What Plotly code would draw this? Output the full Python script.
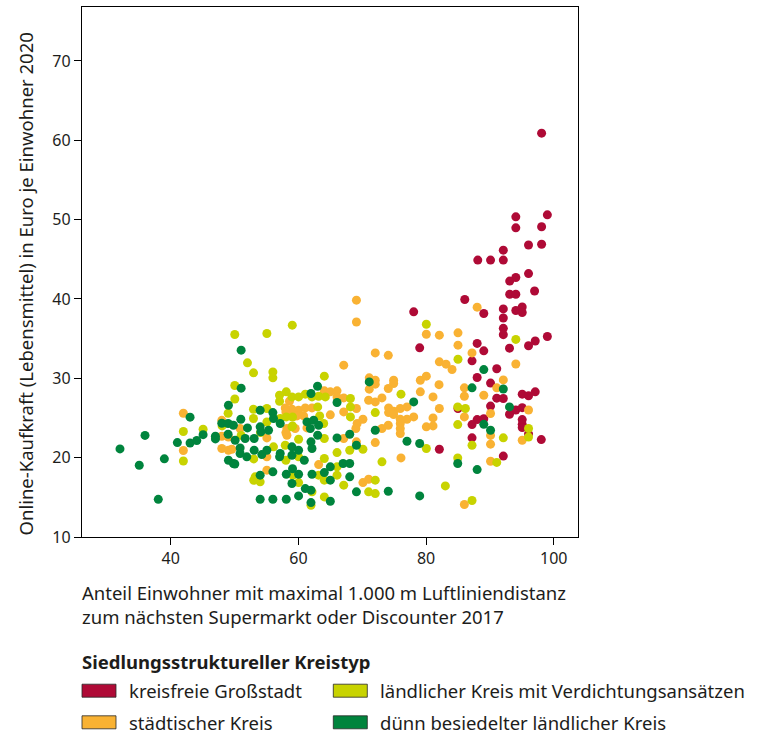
import plotly.graph_objects as go

# ---------------- data ----------------
categories = ["kreisfreie Großstadt", "städtischer Kreis",
              "ländlicher Kreis mit Verdichtungsansätzen",
              "dünn besiedelter ländlicher Kreis"]
colors = ["#AF0A36", "#F9B233", "#C8D300", "#00843D"]

grossstadt_x = [98.1, 99.0, 94.06, 94.06, 98.1, 96.05, 98.1, 92.1, 88.1, 90.1, 92.1, 96.05, 94.06, 93.1, 97.0, 93.1, 94.06,
                86.06, 78.06, 79.0, 82.08, 85.0,
                89.04, 92.1, 94.06, 95.06, 95.06, 92.1, 92.1, 92.1, 99.0, 97.1, 96.05, 93.07, 88.0, 89.04, 87.2, 91.07,
                88.0, 90.1, 91.07, 92.1, 95.06, 96.05, 97.1,
                90.1, 94.06, 95.06, 93.07, 88.0, 89.04, 87.2, 95.06, 95.06, 95.06, 96.05, 87.2, 98.05, 92.1]
grossstadt_y = [60.9, 50.6, 50.35, 48.97, 49.1, 46.8, 46.9, 46.15, 44.9, 44.9, 44.9, 43.2, 42.7, 42.25, 41.0, 40.6, 40.6,
                39.93, 38.38, 33.84, 21.06, 26.2,
                38.17, 38.75, 38.55, 39.0, 38.3, 37.6, 36.3, 35.5, 35.27, 34.7, 34.1, 33.8, 34.4, 33.46, 32.2, 31.2,
                30.1, 29.4, 27.5, 27.45, 28.0, 27.8, 28.3,
                26.5, 26.0, 26.3, 25.47, 24.8, 24.9, 24.17, 24.8, 24.2, 23.8, 23.0, 22.5, 22.28, 20.2]

staedtisch_x = [41.98, 41.98, 48.0, 48.0, 49.04, 48.0, 49.04,
                69.09, 69.09, 67.1, 64.06, 65.0, 66.05,
                58.6, 66.05, 67.1, 57.94, 58.99, 60.03, 61.08, 62.13, 67.1, 69.09, 60.82, 59.77, 50.87, 58.2, 59.5,
                61.34, 69.2, 55.06, 58.2, 67.1, 69.09, 49.56, 55.06, 63.17, 55.06, 58.04, 58.04, 65.0, 69.0,
                80.04, 82.08, 85.0, 85.0, 72.04, 74.08, 82.08, 83.13, 84.07, 71.1, 72.04, 71.1, 72.04, 74.92, 74.92,
                79.1, 80.04, 82.03, 86.0, 74.08, 79.1,
                71.0, 72.04, 73.09, 81.09, 86.0, 74.13, 74.92, 75.96, 77.01, 74.13, 74.92, 78.06, 82.08, 70.11, 75.96,
                77.01, 75.96, 75.96, 75.96, 80.04, 81.09, 81.09, 73.09, 74.08, 86.0, 72.04, 76.07, 70.11, 71.0, 86.0,
                88.0, 87.2, 94.06, 92.1, 91.07, 89.04, 96.05, 90.1, 90.1, 95.06, 90.1, 90.1]
staedtisch_y = [25.6, 20.9, 24.7, 21.15, 20.93, 22.7, 22.6,
                39.85, 37.1, 31.66, 28.42, 28.3, 28.42,
                27.11, 27.66, 27.53, 26.27, 26.1, 25.98, 26.27, 26.27, 25.77, 26.19, 25.26, 25.26, 23.67, 23.67, 23.67,
                23.75, 24.3, 22.49, 22.83, 22.41, 21.99, 21.06, 20.1, 19.13, 18.42, 25.76, 23.16, 25.4, 23.67,
                35.56, 35.44, 35.73, 34.18, 33.2, 32.9, 32.08, 31.78, 31.11, 30.06, 29.76, 28.63, 29.26, 29.76, 29.34,
                29.76, 30.27, 29.2, 28.8, 28.71, 28.3,
                27.24, 27.03, 27.53, 27.66, 27.74, 26.27, 25.85, 26.19, 26.4, 25.68, 25.43, 25.14, 26.19, 24.84, 24.84,
                24.84, 24.3, 23.67, 23.04, 23.88, 25.01, 24.0, 23.67, 24.09, 25.14, 21.9, 19.97, 16.86, 17.28, 14.09,
                38.97, 33.2, 31.8, 29.8, 28.8, 27.87, 26.0, 25.56, 22.8, 22.2, 21.7, 19.55]

laendlich_verd_x = [41.98, 41.98, 45.07, 48.99, 48.05,
                    50.03, 55.06, 59.04, 52.02, 52.97, 56.0, 56.0, 64.06, 50.03, 58.1, 61.08,
                    57.05, 58.99, 60.03, 62.13, 63.17, 64.22, 68.15, 52.96, 55.06, 63.02, 68.15, 52.96, 57.15, 58.1,
                    63.33, 63.96, 68.15, 58.99, 60.03, 64.06, 56.1, 57.94, 60.03, 64.06, 66.05, 68.04, 66.05, 66.05,
                    53.23, 59.14, 63.17, 64.06, 67.1, 54.01, 60.03, 62.13, 64.06, 61.97,
                    50.04, 51.03, 54.06, 55.06, 57.04, 53.0, 53.0, 58.04, 59.08, 59.08,
                    80.04, 85.0, 76.07,
                    72.04, 84.96, 86.16, 84.96, 80.04, 70.11, 73.09, 84.96, 72.04, 71.0, 72.04, 83.02,
                    94.06, 96.05, 92.1, 96.05, 87.2, 91.07, 87.2]
laendlich_verd_y = [23.3, 19.58, 23.58, 25.6, 24.0,
                    35.52, 35.65, 36.7, 31.95, 30.69, 30.8, 30.06, 30.27, 29.1, 28.3, 28.0,
                    27.11, 27.66, 27.66, 27.66, 27.74, 27.66, 27.45, 26.1, 26.19, 26.4, 26.4, 24.93, 24.93, 25.14,
                    25.26, 24.3, 25.14, 23.88, 22.32, 22.41, 21.36, 21.57, 20.1, 19.89, 20.64, 20.94, 18.84, 17.79,
                    17.58, 17.79, 17.79, 17.16, 16.53, 16.95, 16.86, 15.69, 15.05, 14.0,
                    27.4, 22.8, 23.16, 24.5, 27.87, 19.84, 17.15, 19.67, 25.13, 24.0,
                    36.82, 32.4, 28.0,
                    25.68, 26.4, 26.19, 24.17, 21.15, 21.06, 19.47, 19.97, 17.16, 15.69, 15.47, 16.44,
                    34.9, 23.67, 22.5, 22.6, 21.56, 19.4, 14.6]

duenn_x = [32.05, 35.07, 35.97, 38.05, 39.0, 41.04, 43.03, 43.03, 44.08, 45.07, 47.0, 47.0, 48.0, 48.99, 49.04,
           48.99, 49.04,
           51.03, 63.0, 51.03, 61.97,
           54.01, 56.0, 66.05, 56.1, 61.34, 62.39, 63.17, 50.98, 49.82, 52.02, 54.01, 55.32, 57.15, 61.87, 63.02,
           50.09, 51.66, 53.07, 54.12, 66.05, 68.04, 61.97, 69.09, 50.87, 50.87, 51.92, 53.07, 54.27, 55.06, 57.15,
           58.99, 60.03, 58.99, 57.05, 62.13, 60.92, 49.82, 65.0, 67.0, 68.04, 54.01, 56.0, 58.1, 60.03, 62.13,
           64.06, 65.0, 68.04, 58.99, 61.08, 61.97, 69.09, 54.01, 56.0, 58.1, 60.03, 61.97, 65.0, 50.04, 59.08,
           71.1,
           78.06, 72.04, 77.01, 79.0, 84.96, 74.08, 79.0,
           89.04, 87.2, 92.1, 93.07, 89.04, 90.1, 88.0]
duenn_y = [21.1, 19.04, 22.8, 14.75, 19.85, 21.9, 25.1, 21.85, 22.16, 22.9, 22.7, 22.36, 24.34, 24.3, 26.6,
           22.95, 19.67,
           33.55, 29.0, 28.76, 28.08,
           25.98, 25.68, 26.95, 24.93, 24.51, 24.72, 24.09, 24.84, 24.09, 23.75, 23.88, 23.46, 24.3, 23.67, 22.83,
           22.2, 22.41, 22.41, 23.25, 22.49, 22.95, 21.99, 21.57, 21.23, 20.52, 20.1, 20.94, 20.39, 20.94, 20.52,
           21.36, 20.94, 20.31, 20.1, 21.15, 19.68, 19.26, 18.84, 19.26, 19.26, 17.79, 18.21, 17.91, 17.91, 17.91,
           18.12, 17.16, 17.58, 16.74, 16.1, 15.9, 15.69, 14.76, 14.76, 14.76, 15.18, 14.34, 14.5, 19.2, 18.6,
           29.55,
           27.03, 23.46, 22.07, 21.78, 19.26, 15.77, 15.18,
           31.1, 28.8, 28.66, 26.4, 24.2, 23.45, 18.5]

series_x = [grossstadt_x, staedtisch_x, laendlich_verd_x, duenn_x]
series_y = [grossstadt_y, staedtisch_y, laendlich_verd_y, duenn_y]

x_ticks = [40, 60, 80, 100]
y_ticks = [10, 20, 30, 40, 50, 60, 70]

y_title = "Online-Kaufkraft (Lebensmittel) in Euro je Einwohner 2020"
x_title_lines = ["Anteil Einwohner mit maximal 1.000 m Luftliniendistanz",
                 "zum nächsten Supermarkt oder Discounter 2017"]
legend_title = "Siedlungsstruktureller Kreistyp"

# ---------------- figure ----------------
FONT = "Noto Sans"
TXT = "#1d1d1b"
FS_TICK = 16
FS_TEXT = 18.5
W, H = 762, 735
L, R, T, B = 82, 578, 7, 537   # plot area in pixels

def px2x(px):
    return (px - L) / (R - L)

def py2y(py):
    return (B - py) / (B - T)

fig = go.Figure()
for name, col, xs, ys in zip(categories, colors, series_x, series_y):
    fig.add_trace(go.Scatter(x=xs, y=ys, mode="markers", name=name,
                             marker=dict(color=col, size=9, line=dict(width=0)),
                             showlegend=False))

axis_common = dict(showline=True, linecolor="black", linewidth=1.3, mirror=True,
                   ticks="outside", ticklen=7, tickwidth=1.3, tickcolor="black",
                   showgrid=False, zeroline=False,
                   tickfont=dict(family=FONT, size=FS_TICK, color=TXT))
fig.update_xaxes(range=[26.1, 103.8], tickvals=x_ticks, **axis_common)
fig.update_yaxes(range=[10, 76.8], tickvals=y_ticks, **axis_common)

ann = []
ann.append(dict(text=y_title, x=px2x(25), y=py2y(284.5), xref="paper", yref="paper",
                textangle=-90, showarrow=False, xanchor="center", yanchor="middle",
                font=dict(family=FONT, size=FS_TEXT, color=TXT)))
ann.append(dict(text="<br>".join(x_title_lines), x=px2x(80), y=py2y(604), xref="paper", yref="paper",
                showarrow=False, xanchor="left", yanchor="middle", align="left",
                font=dict(family=FONT, size=FS_TEXT, color=TXT)))
ann.append(dict(text="<b>" + legend_title + "</b>", x=px2x(80), y=py2y(661), xref="paper", yref="paper",
                showarrow=False, xanchor="left", yanchor="middle",
                font=dict(family=FONT, size=FS_TEXT, color=TXT)))

shapes = []
legend_pos = [(82, 690.7), (82, 722.3), (333.3, 690.7), (333.3, 722.3)]
order = [0, 1, 2, 3]
for k, (sx, sy) in zip(order, legend_pos):
    shapes.append(dict(type="rect", xref="paper", yref="paper",
                       x0=px2x(sx), x1=px2x(sx + 34), y0=py2y(sy + 6.5), y1=py2y(sy - 6.5),
                       fillcolor=colors[k], line=dict(color="rgba(40,40,40,0.8)", width=1)))
    ann.append(dict(text=categories[k], x=px2x(sx + 45), y=py2y(sy), xref="paper", yref="paper",
                    showarrow=False, xanchor="left", yanchor="middle",
                    font=dict(family=FONT, size=FS_TEXT, color=TXT)))

fig.update_layout(width=W, height=H, margin=dict(l=L, r=W - R, t=T, b=H - B, pad=0),
                  plot_bgcolor="white", paper_bgcolor="white",
                  annotations=ann, shapes=shapes, showlegend=False)

fig.write_html("out.html")
